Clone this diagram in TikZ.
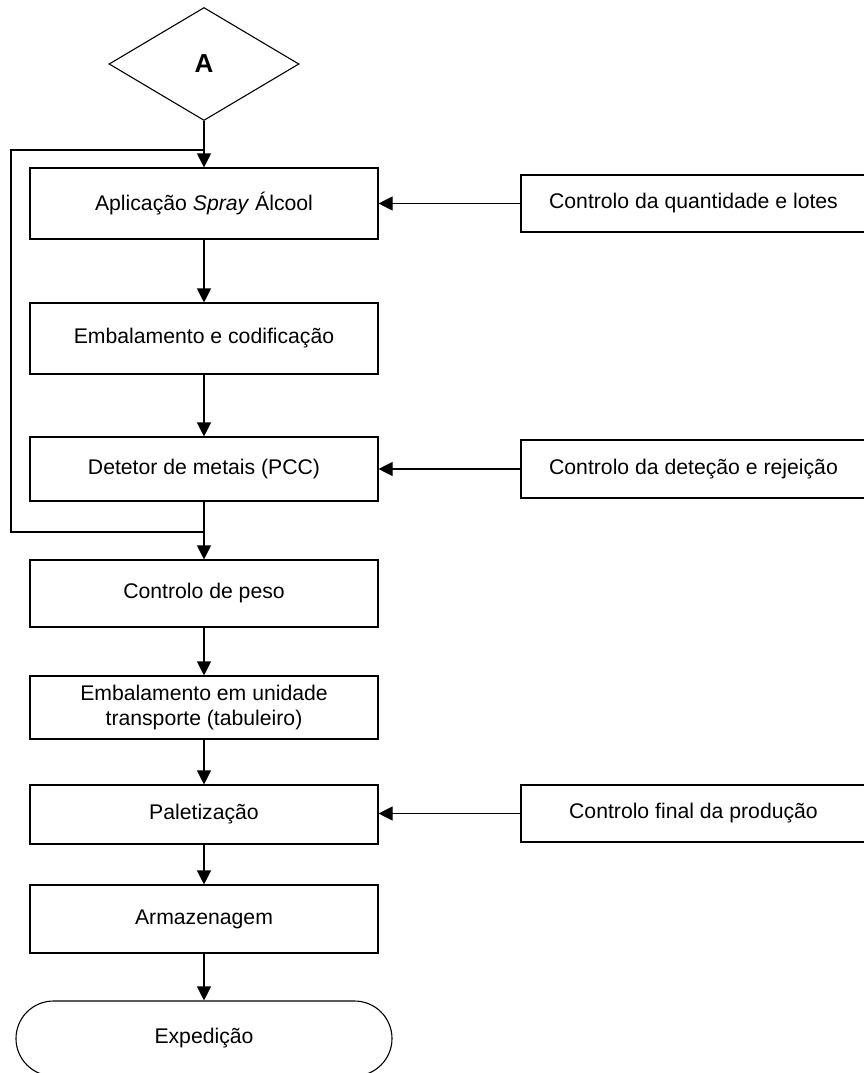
\documentclass[tikz,border=0pt]{standalone}
\usepackage{fontspec}
\setmainfont{Liberation Sans}
\usetikzlibrary{arrows.meta,shapes.geometric}
\begin{document}
\begin{tikzpicture}[x=1pt,y=-1pt,
  line width=1.1pt,
  every node/.style={font=\fontsize{21.2}{25.5}\selectfont},
  mainbox/.style={draw, rectangle, minimum width=348pt, inner sep=0pt, align=center},
  sidebox/.style={draw, rectangle, minimum width=345pt, inner sep=0pt, align=center},
  arr/.style={-{Triangle[length=14pt,width=14pt]}}
]
\useasboundingbox (0,0) rectangle (864,1073);
\node[draw, diamond, minimum width=190pt, minimum height=113pt, inner sep=0pt,
      font=\fontsize{26}{30}\selectfont\bfseries] (A) at (204,64) {A};
\node[mainbox, minimum height=71pt] (b1) at (204,203.5) {Aplicação \textit{Spray} Álcool};
\node[mainbox, minimum height=71pt] (b2) at (204,338.5) {Embalamento e codificação};
\node[mainbox, minimum height=64pt] (b3) at (204,469) {Detetor de metais (PCC)};
\node[mainbox, minimum height=67pt] (b4) at (204,593.5) {Controlo de peso};
\node[mainbox, minimum height=63pt] (b5) at (204,707.5) {Embalamento em unidade\\transporte (tabuleiro)};
\node[mainbox, minimum height=59pt] (b6) at (204,814.5) {Paletização};
\node[mainbox, minimum height=68pt] (b7) at (204,919) {Armazenagem};
\node[draw, rectangle, rounded corners=37.5pt, minimum width=376pt, minimum height=75pt, inner sep=0pt] (t) at (204,1038.5) {Expedição};
\node[sidebox, minimum height=57pt] (r1) at (693.5,203.5) {Controlo da quantidade e lotes};
\node[sidebox, minimum height=58pt] (r2) at (693.5,469) {Controlo da deteção e rejeição};
\node[sidebox, minimum height=57pt] (r3) at (693.5,813.5) {Controlo final da produção};
\coordinate (jt) at (204,150);
\coordinate (jb) at (204,532);
\coordinate (lt) at (11,150);
\coordinate (lb) at (11,532);
\draw[arr] (A.south) -- (b1.north);
\draw[arr] (b1.south) -- (b2.north);
\draw[arr] (b2.south) -- (b3.north);
\draw[arr] (b3.south) -- (b4.north);
\draw[arr] (b4.south) -- (b5.north);
\draw[arr] (b5.south) -- (b6.north);
\draw[arr] (b6.south) -- (b7.north);
\draw[arr] (b7.south) -- (t.north);
\draw (jb) -- (lb) -- (lt) -- (jt);
\draw[arr] (r1.west) -- (b1.east);
\draw[arr] (r2.west) -- (b3.east);
\draw[arr] (r3.west) -- (b6.east |- r3.west);
\end{tikzpicture}
\end{document}
